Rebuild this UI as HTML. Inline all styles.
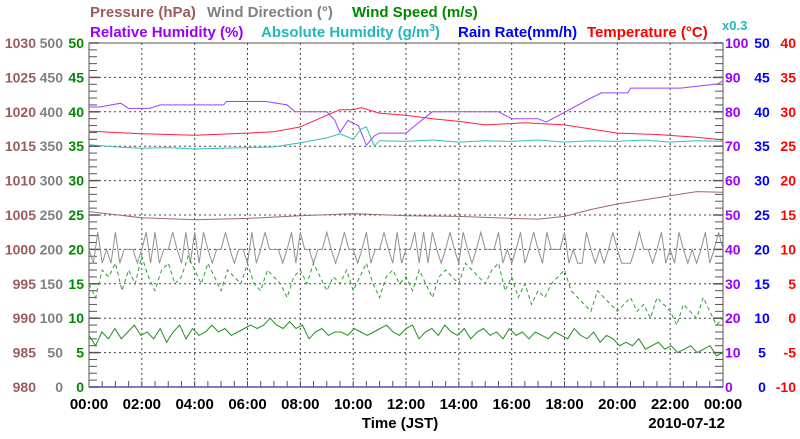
<!DOCTYPE html>
<html><head><meta charset="utf-8"><style>
body{margin:0;background:#fff}
svg text{font-family:"Liberation Sans",sans-serif;font-weight:bold}
</style></head><body>
<svg id="c" width="800" height="434" xmlns="http://www.w3.org/2000/svg">
<g font-size="15">
<text x="90" y="17" fill="#9c5c5c">Pressure (hPa)</text>
<text x="207" y="17" fill="#808080">Wind Direction (°)</text>
<text x="352" y="17" fill="#008800">Wind Speed (m/s)</text>
<text x="90" y="37" fill="#9900ff">Relative Humidity (%)</text>
<text x="261" y="37" fill="#20b8b8">Absolute Humidity (g/m<tspan font-size="10" dy="-6">3</tspan><tspan dy="6">)</tspan></text>
<text x="458" y="37" fill="#0000ff">Rain Rate(mm/h)</text>
<text x="587" y="37" fill="#ff0000">Temperature (°C)</text>
<text x="722" y="30" fill="#20b8b8" font-size="13">x0.3</text>
</g>
<g id="grid"></g><g id="axes"></g><g id="series"></g><g id="labels"></g>
<text x="400" y="428" text-anchor="middle" font-size="15" fill="#000">Time (JST)</text>
<text x="725" y="428" text-anchor="end" font-size="15" fill="#000">2010-07-12</text>
</svg>
<script>
const xTicks=["00:00","02:00","04:00","06:00","08:00","10:00","12:00","14:00","16:00","18:00","20:00","22:00","00:00"];
const pressureTicks=[980,985,990,995,1000,1005,1010,1015,1020,1025,1030];
const dirTicks=[0,50,100,150,200,250,300,350,400,450,500];
const speedTicks=[0,5,10,15,20,25,30,35,40,45,50];
const rhTicks=[0,10,20,30,40,50,60,70,80,90,100];
const rainTicks=[0,5,10,15,20,25,30,35,40,45,50];
const tempTicks=[-10,-5,0,5,10,15,20,25,30,35,40];
const pressureT=[0,2,4,6,8,10,12,14,16,17,18,19,20,21,22,23,24];
const pressureV=[1005.5,1004.6,1004.3,1004.5,1004.9,1005.2,1004.9,1004.8,1004.5,1004.4,1004.8,1005.8,1006.6,1007.2,1007.8,1008.4,1008.3];
const rhT=[0,0.4,1.2,1.5,2.3,2.7,5.1,5.2,6.7,7.5,7.8,9,9.3,9.5,9.8,10.2,10.5,10.8,11,12,12.5,13,15.5,16,17,17.3,17.8,19,19.4,20.4,20.5,22.4,23.8,24];
const rhV=[81.4,81.4,82.5,81,81,82,82,83,83,82,80,80,77.6,74,77.5,76,70.3,73,73.8,73.8,77,80,80,78,78,77,79,84,85.5,85.5,86.9,86.9,88.1,89];
const tempT=[0,2,4,6,7,8,9,9.5,10,10.3,11,12,13,14,15,16.5,18,19,20,21.5,23,24];
const tempV=[27.2,26.8,26.6,26.9,27.1,27.8,29.5,30.3,30.3,30.6,29.8,29.5,29,28.6,28.1,28.4,28.1,27.5,26.9,26.7,26.3,25.9];
const absT=[0,1,2,3,4,5,6,7,8,9,9.5,10,10.3,10.5,10.8,11,12,13,14,15,16,17,18,19,20,21,22,23,24];
const absV=[35.2,34.9,34.7,34.8,34.6,34.7,34.8,34.9,35.5,36.2,36.8,36,37.5,37.8,35,35.8,35.7,35.9,35.6,35.8,35.7,35.9,35.6,35.8,35.7,35.9,35.6,35.8,35.7];
const speedV=[7.5,6,8,7,8.5,7,8,9,7.5,8,7,8.5,6.5,8,9,7,8.5,7.5,8,9,8,8.5,7.5,8,8.5,9,8.5,9,10,9,8.5,9.5,8.5,9,7,8,8.5,7.5,8,8,7.5,8.5,8,7.5,8,8.5,9,8,7.5,8.5,9,7,8,8.5,7.5,9,8,7.5,8.5,7,8,8.5,7.5,8,7,8.5,7.5,8,7,8,7.5,7,8,7.5,7,8.5,7.5,7,8,6.5,7.5,7,6,6.5,6,7,5.5,6,6.5,5.5,6,5,5.5,6,5,5.5,6,4.5,5];
const gustV=[15,13,17,16,18,14,17,15,19,16,14,17,18,15,16,19,17,15,18,16,14,17,16,15,18,15,14,17,16,15,13,16,17,15,18,16,14,16,15,17,14,16,18,15,13,16,17,15,16,14,17,15,13,16,17,16,15,18,17,16,15,17,18,14,16,13,15,12,14,13,15,16,17,14,13,12,11,14,13,12,11,12,13,11,12,10,13,12,11,9,12,11,10,13,11,9,10];
const dirV=[200,180,225,180,200,180,225,180,200,200,200,180,200,225,180,225,180,200,200,225,200,180,225,180,225,180,225,200,180,200,200,225,200,180,200,200,180,225,180,200,225,200,200,200,180,200,225,180,225,200,200,180,200,200,225,200,180,200,225,200,200,180,200,225,180,200,200,225,200,180,225,180,200,200,225,180,225,180,225,200,180,200,225,200,180,225,200,180,200,225,200,200,200,225,180,200,180,200,225,180,200,225,200,180,225,200,200,200,225,180,200,180,180,225,200,180,200,180,200,225,200,180,180,180,200,225,200,200,180,200,225,180,200,180,225,200,180,200,180,200,225,180,200,225,200];

const L=89,R=723,T=43,B=387;
const xh=h=>L+h*(R-L)/24;
const yS=v=>B-v*(B-T)/50;
const yD=d=>B-d*(B-T)/500;
const yP=p=>B-(p-980)*(B-T)/50;
const yRH=r=>B-r*(B-T)/100;
const yT=t=>B-(t+10)*(B-T)/50;
const NS="http://www.w3.org/2000/svg";
function mk(tag,attrs,parent){const e=document.createElementNS(NS,tag);for(const k in attrs)e.setAttribute(k,attrs[k]);document.getElementById(parent).appendChild(e);return e;}
function line(ts,vs,yf,color,name,dash){
  const pts=vs.map((v,i)=>xh(ts?ts[i]:i*24/(vs.length-1)).toFixed(1)+","+yf(v).toFixed(1)).join(" ");
  const p=mk("polyline",{points:pts,fill:"none",stroke:color,"stroke-width":1},"series");
  if(dash)p.setAttribute("stroke-dasharray",dash);
  
  
}
for(let i=1;i<12;i++){const g=mk("line",{x1:xh(i*2),x2:xh(i*2),y1:T,y2:B,stroke:"#444","stroke-dasharray":"2,3"},"grid");

}
for(let i=1;i<10;i++){const y=T+i*(B-T)/10;const g=mk("line",{x1:L,x2:R,y1:y,y2:y,stroke:"#444","stroke-dasharray":"2,3"},"grid");

}
const fr=mk("rect",{x:L,y:T,width:R-L,height:B-T,fill:"none",stroke:"#555"},"axes");


for(let i=0;i<=50;i++){const y=B-i*(B-T)/50;const len=i%5==0?10:8;
 const a=mk("line",{x1:L,x2:L+len,y1:y,y2:y,stroke:"#555","stroke-width":i%5==0?1.5:1},"axes");
 
 
 const b=mk("line",{x1:R-len,x2:R,y1:y,y2:y,stroke:"#555","stroke-width":i%5==0?1.5:1},"axes");
 
 }
for(let i=1;i<48;i++){const x=xh(i/2);
 const t=mk("line",{x1:x,x2:x,y1:B-6,y2:B,stroke:"#555"},"axes");
 
 }
const bl=mk("line",{x1:L,x2:R,y1:B,y2:B,stroke:"#5050b0","stroke-width":1.5},"axes");


line(pressureT,pressureV,yP,"#a06868","pressure-line");
line(null,dirV,yD,"#909090","wind-direction-line");
line(null,gustV,yS,"#30a030","wind-gust-line","4,3");
line(null,speedV,yS,"#209020","wind-speed-line");
line(absT,absV,yS,"#30c0c0","absolute-humidity-line");
line(tempT,tempV,yT,"#ff2040","temperature-line");
line(rhT,rhV,yRH,"#a040ff","relative-humidity-line");
function txt(x,y,s,color,anchor,name,fs){const t=mk("text",{x:x,y:y,fill:color,"text-anchor":anchor,"font-size":fs||14},"labels");t.textContent=s;
 
 }
pressureTicks.forEach(v=>txt(36,yP(v)+5,v,"#9c5c5c","end","pressure-tick-label"));
dirTicks.forEach(v=>txt(63,yD(v)+5,v,"#808080","end","wind-direction-tick-label"));
speedTicks.forEach(v=>txt(84,yS(v)+5,v,"#008800","end","wind-speed-tick-label"));
rhTicks.forEach(v=>txt(725,yRH(v)+5,v,"#9900ff","start","humidity-tick-label"));
rainTicks.forEach(v=>txt(762,yS(v)+5,v,"#0000ff","middle","rain-tick-label"));
tempTicks.forEach(v=>txt(796,yT(v)+5,v,"#ff0000","end","temperature-tick-label"));
xTicks.forEach((s,i)=>txt(xh(i*2),409,s,"#000","middle","x-tick-label",15));
</script>
</body></html>
